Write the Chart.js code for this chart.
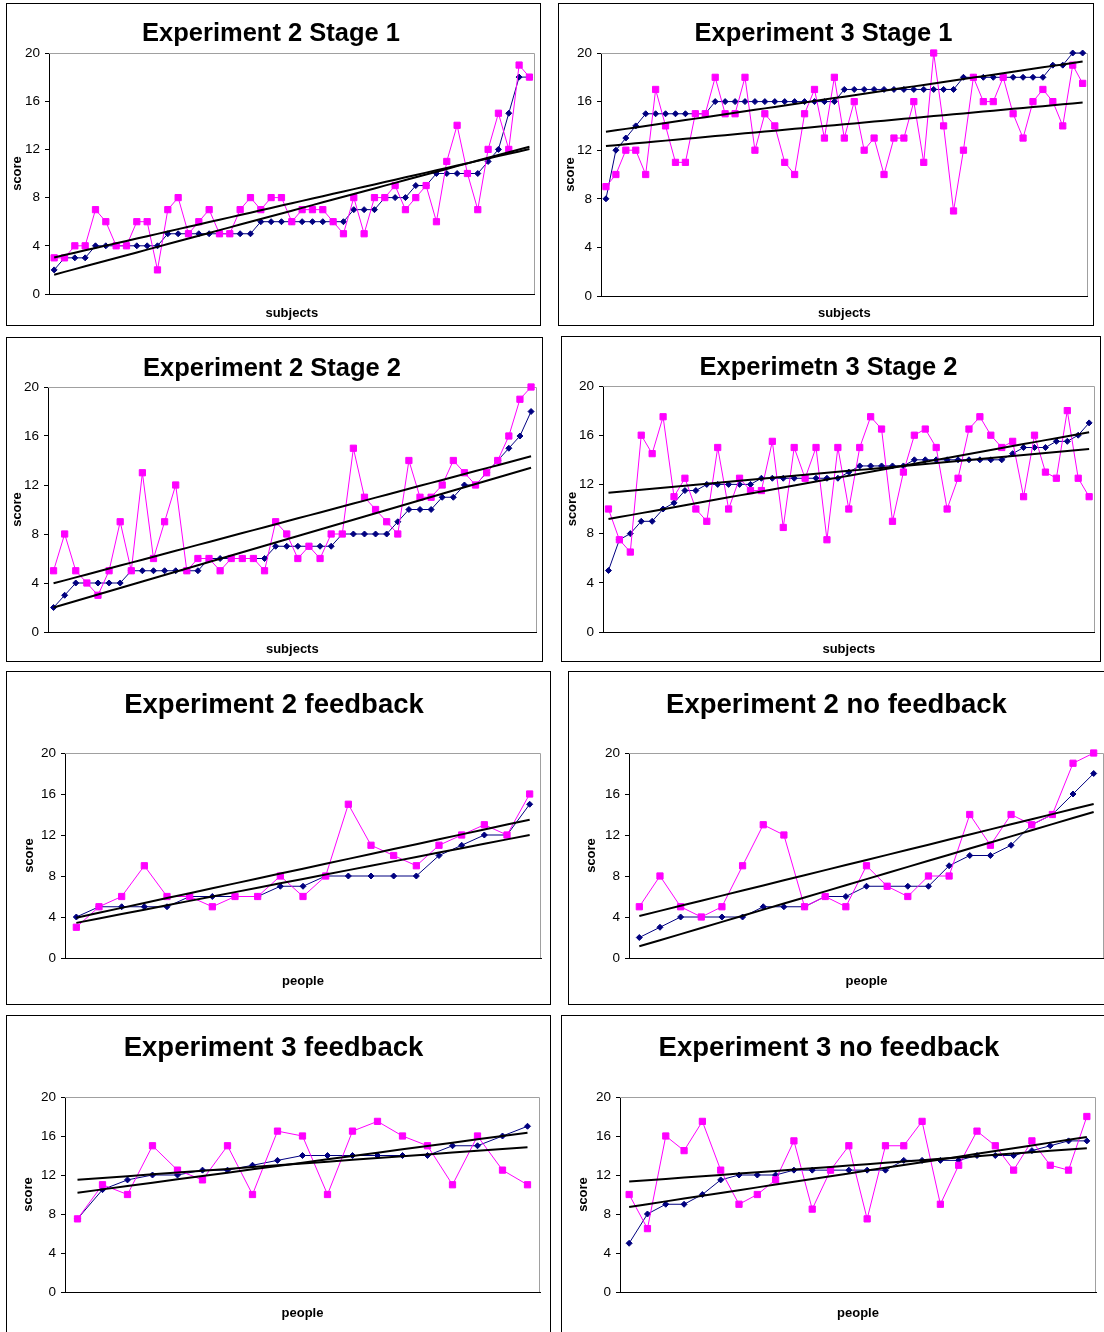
<!DOCTYPE html>
<html>
<head>
<meta charset="utf-8">
<title>Experiment scores</title>
<script src="https://cdn.jsdelivr.net/npm/chart.js@4.4.1/dist/chart.umd.min.js"></script>
<style>
  body { margin: 0; background: #fff; width: 1104px; height: 1332px; overflow: hidden; position: relative; }
  .panel { position: absolute; border: 1px solid #000; background: #fff; box-sizing: border-box; }
  .panel canvas { display: block; }
</style>
</head>
<body>
<script>
// ── Data (blue = diamonds, pink = squares) ──────────────────────────────────
const exp2Stage1Blue = [2,3,3,3,4,4,4,4,4,4,4,5,5,5,5,5,5,5,5,5,6,6,6,6,6,6,6,6,6,7,7,7,8,8,8,9,9,10,10,10,10,10,11,12,15,18,18];
const exp2Stage1Pink = [3,3,4,4,7,6,4,4,6,6,2,7,8,5,6,7,5,5,7,8,7,8,8,6,7,7,7,6,5,8,5,8,8,9,7,8,9,6,11,14,10,7,12,15,12,19,18];

const exp3Stage1Blue = [8,12,13,14,15,15,15,15,15,15,15,16,16,16,16,16,16,16,16,16,16,16,16,16,17,17,17,17,17,17,17,17,17,17,17,17,18,18,18,18,18,18,18,18,18,19,19,20,20];
const exp3Stage1Pink = [9,10,12,12,10,17,14,11,11,15,15,18,15,15,18,12,15,14,11,10,15,17,13,18,13,16,12,13,10,13,13,16,11,20,14,7,12,18,16,16,18,15,13,16,17,16,14,19,17.5];

const exp2Stage2Blue = [2,3,4,4,4,4,4,5,5,5,5,5,5,5,6,6,6,6,6,6,7,7,7,7,7,7,8,8,8,8,8,9,10,10,10,11,11,12,12,13,14,15,16,18];
const exp2Stage2Pink = [5,8,5,4,3,5,9,5,13,6,9,12,5,6,6,5,6,6,6,5,9,8,6,7,6,8,8,15,11,10,9,8,14,11,11,12,14,13,12,13,14,16,19,20];

const exp3Stage2Blue = [5,7.5,8,9,9,10,10.5,11.5,11.5,12,12,12,12,12,12.5,12.5,12.5,12.5,12.5,12.5,12.5,12.5,13,13.5,13.5,13.5,13.5,13.5,14,14,14,14,14,14,14,14,14,14.5,15,15,15,15.5,15.5,16,17];
const exp3Stage2Pink = [10,7.5,6.5,16,14.5,17.5,11,12.5,10,9,15,10,12.5,11.5,11.5,15.5,8.5,15,12.5,15,7.5,15,10,15,17.5,16.5,9,13,16,16.5,15,10,12.5,16.5,17.5,16,15,15.5,11,16,13,12.5,18,12.5,11];

const exp2FeedbackBlue = [4,5,5,5,5,6,6,6,6,7,7,8,8,8,8,8,10,11,12,12,15];
const exp2FeedbackPink = [3,5,6,9,6,6,5,6,6,8,6,8,15,11,10,9,11,12,13,12,16];

const exp2NoFeedbackBlue = [2,3,4,4,4,4,5,5,5,6,6,7,7,7,7,9,10,10,11,13,14,16,18];
const exp2NoFeedbackPink = [5,8,5,4,5,9,13,12,5,6,5,9,7,6,8,8,14,11,14,13,14,19,20];

const exp3FeedbackBlue = [7.5,10.5,11.5,12,12,12.5,12.5,13,13.5,14,14,14,14,14,14,15,15,16,17];
const exp3FeedbackPink = [7.5,11,10,15,12.5,11.5,15,10,16.5,16,10,16.5,17.5,16,15,11,16,12.5,11];

const exp3NoFeedbackBlue = [5,8,9,9,10,11.5,12,12,12,12.5,12.5,12.5,12.5,12.5,12.5,13.5,13.5,13.5,13.5,14,14,14,14.5,15,15.5,15.5];
const exp3NoFeedbackPink = [10,6.5,16,14.5,17.5,12.5,9,10,11.5,15.5,8.5,12.5,15,7.5,15,15,17.5,9,13,16.5,15,12.5,15.5,13,12.5,18];

const scoreTicks = { min: 0, max: 20, step: 4 };

// ── Styling ─────────────────────────────────────────────────────────────────
const FONT = "Arial, 'Liberation Sans', sans-serif";
const BLUE = '#000080';
const PINK = '#ff00ff';

// panel frame + plot area in page pixels, title centre, axis-title positions
const panels = [
  { title: 'Experiment 2 Stage 1', xTitle: 'subjects', blue: exp2Stage1Blue, pink: exp2Stage1Pink,
    box: [6, 3, 540, 325], plot: [49, 53, 535, 294], titleY: 34, titleSize: 25.5, scoreX: 17, xTitleY: 313 },
  { title: 'Experiment 3 Stage 1', xTitle: 'subjects', blue: exp3Stage1Blue, pink: exp3Stage1Pink,
    box: [558, 3, 1093, 325], plot: [601, 53, 1088, 296], titleY: 34, titleSize: 25.5, scoreX: 570, xTitleY: 313 },
  { title: 'Experiment 2 Stage 2', xTitle: 'subjects', blue: exp2Stage2Blue, pink: exp2Stage2Pink,
    box: [6, 337, 542, 661], plot: [48, 387, 537, 632], titleY: 369, titleSize: 25.5, scoreX: 17, xTitleY: 649 },
  { title: 'Experimetn 3 Stage 2', xTitle: 'subjects', blue: exp3Stage2Blue, pink: exp3Stage2Pink,
    box: [561, 336, 1100, 661], plot: [603, 386, 1095, 632], titleY: 368, titleSize: 25.5, scoreX: 572, xTitleY: 649 },
  { title: 'Experiment 2 feedback', xTitle: 'people', blue: exp2FeedbackBlue, pink: exp2FeedbackPink,
    box: [6, 671, 550, 1004], plot: [65, 753, 541, 958], titleY: 705, titleSize: 27.5, scoreX: 29, xTitleY: 981 },
  { title: 'Experiment 2 no feedback', xTitle: 'people', blue: exp2NoFeedbackBlue, pink: exp2NoFeedbackPink,
    box: [568, 671, 1115, 1004], plot: [629, 753, 1104, 958], titleY: 705, titleSize: 27.5, scoreX: 591, xTitleY: 981 },
  { title: 'Experiment 3 feedback', xTitle: 'people', blue: exp3FeedbackBlue, pink: exp3FeedbackPink,
    box: [6, 1015, 550, 1345], plot: [65, 1097, 540, 1292], titleY: 1048, titleSize: 27.5, scoreX: 28, xTitleY: 1313 },
  { title: 'Experiment 3 no feedback', xTitle: 'people', blue: exp3NoFeedbackBlue, pink: exp3NoFeedbackPink,
    box: [561, 1015, 1107, 1345], plot: [620, 1097, 1096, 1292], titleY: 1048, titleSize: 27.5, scoreX: 583, xTitleY: 1313 },
];

// least-squares line over category index, like Excel's linear trendline
function fitLine(values) {
  const n = values.length;
  let sx = 0, sy = 0, sxx = 0, sxy = 0;
  values.forEach((v, i) => { const x = i + 1; sx += x; sy += v; sxx += x * x; sxy += x * v; });
  const b = (n * sxy - sx * sy) / (n * sxx - sx * sx);
  const a = (sy - b * sx) / n;
  return values.map((_, i) => a + b * (i + 1));
}

// grey top/right edge of the plot area
const plotFrame = {
  id: 'plotFrame',
  beforeDatasetsDraw(chart) {
    const { ctx, chartArea: { left, top, right, bottom } } = chart;
    ctx.save();
    ctx.strokeStyle = '#a0a0a0';
    ctx.lineWidth = 1;
    ctx.beginPath();
    ctx.moveTo(left, Math.round(top) + 0.5);
    ctx.lineTo(Math.round(right) - 0.5, Math.round(top) + 0.5);
    ctx.lineTo(Math.round(right) - 0.5, bottom);
    ctx.stroke();
    ctx.restore();
  }
};

function buildPanel(p) {
  const [bx1, by1, bx2, by2] = p.box;
  const div = document.createElement('div');
  div.className = 'panel';
  div.style.left = bx1 + 'px';
  div.style.top = by1 + 'px';
  div.style.width = (bx2 - bx1 + 1) + 'px';
  div.style.height = (by2 - by1 + 1) + 'px';

  const cw = bx2 - bx1 - 1, ch = by2 - by1 - 1;
  const canvas = document.createElement('canvas');
  canvas.width = cw; canvas.height = ch;
  canvas.style.width = cw + 'px'; canvas.style.height = ch + 'px';
  div.appendChild(canvas);
  document.body.appendChild(div);

  const ox = bx1 + 1, oy = by1 + 1;
  const L = p.plot[0] - ox, T = p.plot[1] - oy, R = p.plot[2] - ox, B = p.plot[3] - oy;
  const lh = p.titleSize * 1.2;
  const titleTop = p.titleY - oy - lh / 2;
  const axLh = 13 * 1.2;
  const labels = p.blue.map((_, i) => String(i + 1));

  const markers = { borderWidth: 1, pointBorderWidth: 1, clip: false };

  new Chart(canvas, {
    type: 'line',
    data: {
      labels,
      datasets: [
        { label: 'trend pink', data: fitLine(p.pink), borderColor: '#000', borderWidth: 2, pointRadius: 0, order: 0 },
        { label: 'trend blue', data: fitLine(p.blue), borderColor: '#000', borderWidth: 2, pointRadius: 0, order: 0 },
        { ...markers, label: 'pink', data: p.pink, borderColor: PINK, backgroundColor: PINK,
          pointBackgroundColor: PINK, pointBorderColor: PINK, pointStyle: 'rect', pointRadius: 4.4, order: 1 },
        { ...markers, label: 'blue', data: p.blue, borderColor: BLUE, backgroundColor: BLUE,
          pointBackgroundColor: BLUE, pointBorderColor: BLUE, pointStyle: 'rectRot', pointRadius: 3, order: 2 },
      ]
    },
    options: {
      responsive: false,
      animation: false,
      devicePixelRatio: 1,
      layout: { padding: { left: 0, top: 0, right: cw - R, bottom: 0 } },
      plugins: {
        legend: { display: false },
        tooltip: { enabled: false },
        title: {
          display: true,
          text: p.title,
          color: '#000',
          font: { family: FONT, size: p.titleSize, weight: 'bold' },
          padding: { top: titleTop, bottom: T - titleTop - lh }
        }
      },
      scales: {
        x: {
          type: 'category',
          offset: true,
          grid: { display: false },
          border: { display: true, color: '#000', width: 1 },
          ticks: { display: false },
          title: {
            display: true, text: p.xTitle, color: '#000',
            font: { family: FONT, size: 13, weight: 'bold' },
            padding: { top: 0, bottom: ch - (p.xTitleY - oy) - axLh / 2 }
          },
          afterFit: s => { s.height = ch - B; }
        },
        y: {
          min: scoreTicks.min, max: scoreTicks.max,
          ticks: { stepSize: scoreTicks.step, color: '#000', padding: 5, font: { family: FONT, size: 13.5 } },
          grid: { display: true, drawOnChartArea: false, drawTicks: true, tickLength: 4, color: '#000' },
          border: { display: true, color: '#000', width: 1 },
          title: {
            display: true, text: 'score', color: '#000',
            font: { family: FONT, size: 13, weight: 'bold' },
            padding: { top: p.scoreX - ox - axLh / 2, bottom: 0 }
          },
          afterFit: s => { s.width = L; }
        }
      }
    },
    plugins: [plotFrame]
  });
}

panels.forEach(buildPanel);
</script>
</body>
</html>
